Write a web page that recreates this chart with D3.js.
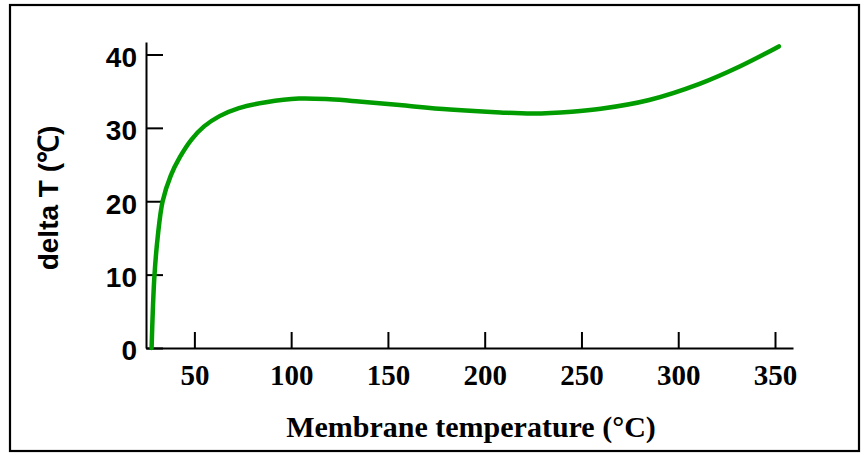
<!DOCTYPE html>
<html><head><meta charset="utf-8">
<script src="https://cdn.jsdelivr.net/npm/d3@7"></script>
<style>body{margin:0;background:#fff;}svg{display:block;}</style>
</head><body>
<svg id="c" width="862" height="453"></svg>
<script>
const temps = [27.9, 28.5, 29.4, 31.0, 33.6, 37.8, 42.5, 48.5, 55, 63, 73, 87, 104, 120, 135, 156, 182, 208, 225, 245, 260, 285, 311, 332, 352];
const deltaT = [0, 5, 10, 15, 20, 23.5, 26, 28.4, 30.2, 31.6, 32.7, 33.5, 34.0, 33.9, 33.6, 33.1, 32.5, 32.1, 31.95, 32.2, 32.6, 33.8, 36.0, 38.4, 41.1];
const xTicks = [50, 100, 150, 200, 250, 300, 350];
const yTicks = [0, 10, 20, 30, 40];
const xTitle = "Membrane temperature (°C)";
const yTitle = "delta T (℃)";

const svg = d3.select("#c");
svg.append("rect").attr("x", 10).attr("y", 5).attr("width", 849).attr("height", 446)
  .attr("fill", "#fff").attr("stroke", "#000").attr("stroke-width", 2.2);

const x = d3.scaleLinear().domain([25, 359.3]).range([146, 793]);
const y = d3.scaleLinear().domain([0, 41.7]).range([348, 42]);

const gx = svg.append("g").attr("transform", "translate(0,348)")
  .call(d3.axisBottom(x).tickValues(xTicks).tickSize(-16).tickSizeOuter(0).tickPadding(16));
gx.selectAll("text").attr("font-family", "'Liberation Serif','Times New Roman',serif")
  .attr("font-weight", "bold").attr("font-size", 29).attr("fill", "#000");

const gy = svg.append("g").attr("transform", "translate(146,0)")
  .call(d3.axisLeft(y).tickValues(yTicks).tickSize(-17).tickSizeOuter(0).tickPadding(9));
gy.selectAll("text").attr("font-family", "'Liberation Sans',Arial,sans-serif")
  .attr("font-weight", "bold").attr("font-size", 28).attr("fill", "#000").attr("dy", "0.42em");

svg.selectAll(".domain, .tick line").attr("stroke", "#000").attr("stroke-width", 2);

const line = d3.line().x((d, i) => x(temps[i])).y(d => y(d)).curve(d3.curveCatmullRom.alpha(0.5));
svg.append("path").datum(deltaT).attr("d", line).attr("fill", "none")
  .attr("stroke", "#009c00").attr("stroke-width", 4.5).attr("stroke-linecap", "round");

svg.append("text").attr("x", 471).attr("y", 437).attr("text-anchor", "middle")
  .attr("font-family", "'Liberation Serif','Times New Roman',serif").attr("font-weight", "bold")
  .attr("font-size", 30).text(xTitle);

svg.append("text").attr("transform", "translate(58,198) rotate(-90)").attr("text-anchor", "middle")
  .attr("font-family", "'Liberation Sans',Arial,sans-serif").attr("font-weight", "bold")
  .attr("font-size", 28).text(yTitle);
</script>
</body></html>
